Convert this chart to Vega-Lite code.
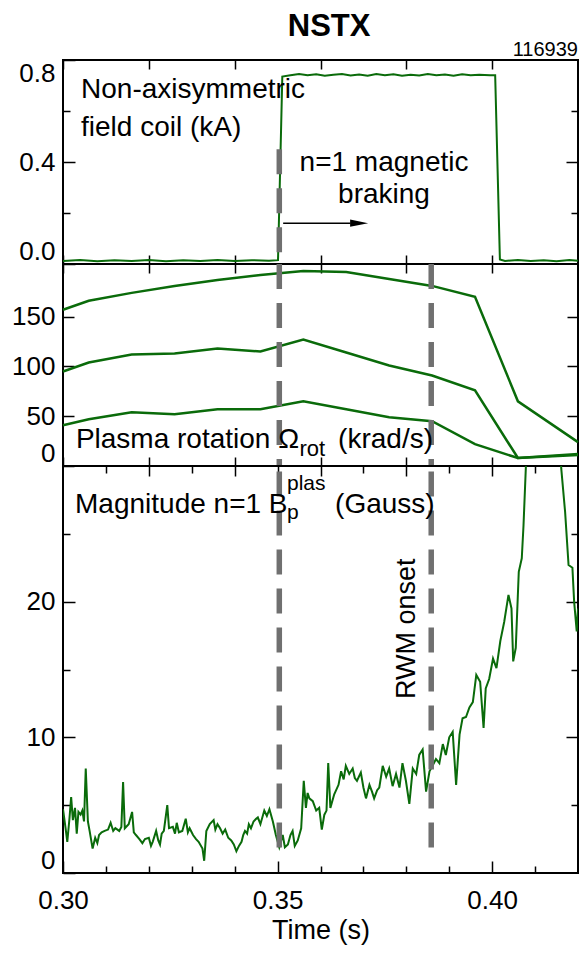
{
  "$schema": "https://vega.github.io/schema/vega-lite/v6.json",
  "background": "white",
  "padding": {"left": 2, "top": 10, "right": 1, "bottom": 2},
  "spacing": 0,
  "bounds": "flush",
  "config": {
    "font": "Liberation Sans",
    "view": {"stroke": "black", "strokeWidth": 2},
    "axis": {"domain": false, "grid": false, "labelFont": "Liberation Sans", "labelFontSize": 26, "labelColor": "black", "tickColor": "black", "tickWidth": 1.5, "titleFont": "Liberation Sans", "titleFontSize": 27, "titleFontWeight": "normal", "titleColor": "black"},
    "text": {"font": "Liberation Sans", "color": "black"}
  },
  "datasets": {
    "coil": [
      {"t":0.300,"v":0.012},{"t":0.304,"v":0.016},{"t":0.308,"v":0.011},{"t":0.312,"v":0.015},{"t":0.316,"v":0.012},{"t":0.320,"v":0.016},{"t":0.324,"v":0.011},{"t":0.328,"v":0.015},{"t":0.332,"v":0.012},{"t":0.336,"v":0.016},{"t":0.340,"v":0.012},{"t":0.344,"v":0.015},{"t":0.348,"v":0.013},{"t":0.3501,"v":0.015},{"t":0.3511,"v":0.735},{"t":0.353,"v":0.740},{"t":0.355,"v":0.745},{"t":0.357,"v":0.740},{"t":0.359,"v":0.744},{"t":0.361,"v":0.738},{"t":0.363,"v":0.742},{"t":0.365,"v":0.745},{"t":0.367,"v":0.739},{"t":0.369,"v":0.743},{"t":0.371,"v":0.738},{"t":0.373,"v":0.745},{"t":0.375,"v":0.740},{"t":0.377,"v":0.744},{"t":0.379,"v":0.738},{"t":0.381,"v":0.742},{"t":0.383,"v":0.739},{"t":0.385,"v":0.745},{"t":0.387,"v":0.740},{"t":0.389,"v":0.743},{"t":0.391,"v":0.738},{"t":0.393,"v":0.744},{"t":0.395,"v":0.740},{"t":0.397,"v":0.742},{"t":0.3995,"v":0.740},{"t":0.4007,"v":0.740},{"t":0.4018,"v":0.018},{"t":0.403,"v":0.012},{"t":0.406,"v":0.016},{"t":0.409,"v":0.012},{"t":0.412,"v":0.015},{"t":0.415,"v":0.011},{"t":0.418,"v":0.016},{"t":0.420,"v":0.013}
    ],
    "rot": [
      {"s":"a","t":0.300,"v":157},{"s":"a","t":0.306,"v":166},{"s":"a","t":0.316,"v":174},{"s":"a","t":0.326,"v":181},{"s":"a","t":0.336,"v":187},{"s":"a","t":0.346,"v":192},{"s":"a","t":0.356,"v":196},{"s":"a","t":0.366,"v":195},{"s":"a","t":0.376,"v":188},{"s":"a","t":0.386,"v":181},{"s":"a","t":0.396,"v":170},{"s":"a","t":0.406,"v":65},{"s":"a","t":0.420,"v":24},
      {"s":"b","t":0.300,"v":95},{"s":"b","t":0.306,"v":104},{"s":"b","t":0.316,"v":112},{"s":"b","t":0.326,"v":113},{"s":"b","t":0.336,"v":118},{"s":"b","t":0.346,"v":115},{"s":"b","t":0.356,"v":127},{"s":"b","t":0.366,"v":114},{"s":"b","t":0.376,"v":101},{"s":"b","t":0.386,"v":91},{"s":"b","t":0.396,"v":76},{"s":"b","t":0.406,"v":8},{"s":"b","t":0.420,"v":12},
      {"s":"c","t":0.300,"v":41},{"s":"c","t":0.306,"v":47},{"s":"c","t":0.316,"v":54},{"s":"c","t":0.326,"v":52},{"s":"c","t":0.336,"v":57},{"s":"c","t":0.346,"v":57},{"s":"c","t":0.356,"v":65},{"s":"c","t":0.366,"v":57},{"s":"c","t":0.376,"v":49},{"s":"c","t":0.386,"v":45},{"s":"c","t":0.396,"v":22},{"s":"c","t":0.406,"v":8},{"s":"c","t":0.420,"v":11}
    ],
    "bp": [
      {"t":0.3000,"v":4.7},{"t":0.3006,"v":3.3},{"t":0.3010,"v":2.3},{"t":0.3015,"v":4.0},{"t":0.3019,"v":5.6},{"t":0.3023,"v":3.9},{"t":0.3028,"v":4.8},{"t":0.3032,"v":2.9},{"t":0.3036,"v":4.5},{"t":0.3041,"v":4.3},{"t":0.3045,"v":4.6},{"t":0.3049,"v":3.8},{"t":0.3053,"v":7.7},{"t":0.3058,"v":3.8},{"t":0.3062,"v":3.1},{"t":0.3069,"v":1.8},{"t":0.3075,"v":2.6},{"t":0.3080,"v":2.2},{"t":0.3084,"v":2.8},{"t":0.3090,"v":3.0},{"t":0.3097,"v":3.1},{"t":0.3105,"v":3.2},{"t":0.3111,"v":3.7},{"t":0.3117,"v":3.1},{"t":0.3122,"v":3.3},{"t":0.3131,"v":3.1},{"t":0.3136,"v":3.4},{"t":0.3140,"v":6.7},{"t":0.3144,"v":3.3},{"t":0.3153,"v":3.6},{"t":0.3161,"v":4.5},{"t":0.3165,"v":3.0},{"t":0.3170,"v":2.8},{"t":0.3178,"v":2.5},{"t":0.3185,"v":2.2},{"t":0.3191,"v":2.5},{"t":0.3200,"v":2.6},{"t":0.3205,"v":2.0},{"t":0.3209,"v":2.3},{"t":0.3217,"v":3.1},{"t":0.3222,"v":2.4},{"t":0.3226,"v":2.1},{"t":0.3230,"v":2.9},{"t":0.3235,"v":3.1},{"t":0.3243,"v":5.0},{"t":0.3247,"v":3.3},{"t":0.3256,"v":3.4},{"t":0.3261,"v":2.9},{"t":0.3265,"v":3.7},{"t":0.3270,"v":3.0},{"t":0.3278,"v":3.1},{"t":0.3286,"v":4.0},{"t":0.3291,"v":3.0},{"t":0.3295,"v":3.3},{"t":0.3303,"v":2.8},{"t":0.3310,"v":2.5},{"t":0.3316,"v":2.3},{"t":0.3325,"v":1.8},{"t":0.3329,"v":0.9},{"t":0.3334,"v":3.1},{"t":0.3342,"v":3.6},{"t":0.3351,"v":3.9},{"t":0.3355,"v":3.2},{"t":0.3360,"v":3.6},{"t":0.3366,"v":3.3},{"t":0.3372,"v":2.9},{"t":0.3378,"v":3.2},{"t":0.3385,"v":2.6},{"t":0.3392,"v":2.4},{"t":0.3398,"v":2.1},{"t":0.3404,"v":1.6},{"t":0.3410,"v":2.0},{"t":0.3416,"v":2.3},{"t":0.3420,"v":2.8},{"t":0.3424,"v":3.1},{"t":0.3429,"v":2.9},{"t":0.3433,"v":3.6},{"t":0.3438,"v":3.3},{"t":0.3444,"v":3.8},{"t":0.3450,"v":4.0},
      {"t":0.3454,"v":4.1},{"t":0.3460,"v":3.6},{"t":0.3469,"v":4.6},{"t":0.3475,"v":4.2},{"t":0.3481,"v":4.7},{"t":0.3489,"v":3.8},{"t":0.3496,"v":2.8},{"t":0.3504,"v":1.9},{"t":0.3512,"v":2.8},{"t":0.3517,"v":1.9},{"t":0.3524,"v":2.1},{"t":0.3530,"v":2.8},{"t":0.3535,"v":3.1},{"t":0.3540,"v":2.0},{"t":0.3547,"v":2.4},{"t":0.3555,"v":3.3},{"t":0.3561,"v":6.8},{"t":0.3566,"v":4.8},{"t":0.3570,"v":5.9},{"t":0.3574,"v":5.5},{"t":0.3582,"v":5.3},{"t":0.3590,"v":4.6},{"t":0.3597,"v":4.8},{"t":0.3603,"v":3.2},{"t":0.3609,"v":4.3},{"t":0.3614,"v":4.6},{"t":0.3618,"v":8.1},{"t":0.3623,"v":4.8},{"t":0.3632,"v":5.8},{"t":0.3642,"v":6.5},{"t":0.3648,"v":7.5},{"t":0.3654,"v":6.9},{"t":0.3659,"v":7.9},{"t":0.3667,"v":7.3},{"t":0.3675,"v":7.7},{"t":0.3680,"v":7.0},{"t":0.3685,"v":6.8},{"t":0.3694,"v":7.4},{"t":0.3700,"v":6.3},{"t":0.3706,"v":5.5},{"t":0.3714,"v":6.5},{"t":0.3720,"v":6.0},{"t":0.3725,"v":5.5},{"t":0.3732,"v":6.1},{"t":0.3737,"v":6.3},{"t":0.3745,"v":7.9},{"t":0.3753,"v":7.1},{"t":0.3760,"v":7.7},{"t":0.3768,"v":6.4},{"t":0.3776,"v":7.3},{"t":0.3784,"v":6.3},{"t":0.3791,"v":8.1},{"t":0.3799,"v":6.8},{"t":0.3807,"v":5.1},{"t":0.3815,"v":7.7},{"t":0.3823,"v":7.3},{"t":0.3830,"v":8.7},{"t":0.3838,"v":9.1},{"t":0.3846,"v":6.0},{"t":0.3854,"v":7.5},{"t":0.3861,"v":7.9},{"t":0.3869,"v":8.4},{"t":0.3877,"v":8.1},{"t":0.3885,"v":9.5},{"t":0.3892,"v":8.7},{"t":0.3900,"v":10.0},{"t":0.3908,"v":10.4},{"t":0.3916,"v":6.5},{"t":0.3924,"v":10.2},{"t":0.3931,"v":11.4},{"t":0.3939,"v":11.5},{"t":0.3947,"v":12.2},{"t":0.3955,"v":12.6},{"t":0.3963,"v":14.6},{"t":0.3972,"v":14.1},{"t":0.3980,"v":10.7},{"t":0.3985,"v":13.6},{"t":0.3993,"v":14.3},{"t":0.4002,"v":15.8},{"t":0.4010,"v":15.1},{"t":0.4019,"v":17.1},{"t":0.4028,"v":18.5},{"t":0.4038,"v":20.5},{"t":0.4045,"v":19.5},{"t":0.4049,"v":15.6},{"t":0.4055,"v":16.6},{"t":0.4062,"v":22.2},{"t":0.4069,"v":23.2},{"t":0.4073,"v":25.6},{"t":0.4079,"v":30.3},{"t":0.4085,"v":36},{"t":0.4150,"v":36},{"t":0.4161,"v":29.8},{"t":0.4170,"v":26.6},{"t":0.4178,"v":22.7},{"t":0.4187,"v":22.5},{"t":0.4191,"v":20.0},{"t":0.4197,"v":17.8},{"t":0.4200,"v":19.5}
    ]
  },
  "vconcat": [
    {
      "width": 515, "height": 204,
      "encoding": {
        "x": {"field":"t","type":"quantitative","scale":{"domain":[0.3,0.42],"nice":false,"zero":false},"axis":null},
        "y": {"field":"v","type":"quantitative","scale":{"domain":[0,0.8],"nice":false,"zero":false},"axis":null}
      },
      "layer": [
        {"data":{"name":"coil"},"mark":{"type":"line","color":"#0a6b0a","strokeWidth":2},
         "encoding":{
          "x":{"field":"t","type":"quantitative","scale":{"domain":[0.3,0.42],"nice":false,"zero":false},"axis":{"orient":"bottom","title":null,"values":[0.30,0.32,0.34,0.36,0.38,0.40,0.42],"labels":false,"tickSize":-9}},
          "y":{"field":"v","type":"quantitative","scale":{"domain":[0,0.8],"nice":false,"zero":false},"axis":{"orient":"left","title":null,"values":[0,0.4,0.8],"format":".1f","tickSize":-12,"labelPadding":20,"labelFlush":true,"minExtent":60,"maxExtent":60}}}},
        {"data":{"name":"coil"},"mark":{"type":"line","opacity":0},
         "encoding":{
          "x":{"field":"t","type":"quantitative","scale":{"domain":[0.3,0.42],"nice":false,"zero":false},"axis":{"orient":"top","title":null,"values":[0.30,0.32,0.34,0.36,0.38,0.40,0.42],"labels":false,"tickSize":-9}},
          "y":{"field":"v","type":"quantitative","scale":{"domain":[0,0.8],"nice":false,"zero":false},"axis":{"orient":"left","title":null,"values":[0.2,0.6],"labels":false,"tickSize":-7}}}},
        {"data":{"name":"coil"},"mark":{"type":"line","opacity":0},
         "encoding":{
          "y":{"field":"v","type":"quantitative","scale":{"domain":[0,0.8],"nice":false,"zero":false},"axis":{"orient":"right","title":null,"values":[0.4],"labels":false,"tickSize":-12}}}},
        {"data":{"name":"coil"},"mark":{"type":"line","opacity":0},
         "encoding":{
          "y":{"field":"v","type":"quantitative","scale":{"domain":[0,0.8],"nice":false,"zero":false},"axis":{"orient":"right","title":null,"values":[0.2,0.6],"labels":false,"tickSize":-7}}}},
        {"data":{"values":[{"t":0.3504,"v":0.45,"v2":0}]},
         "mark":{"type":"rule","color":"#707070","strokeWidth":5.5,"strokeDash":[25,14]},
         "encoding":{"y2":{"field":"v2"}}},
        {"data":{"values":[{"t":0.3513,"t2":0.3670,"v":0.16}]},
         "mark":{"type":"rule","color":"black","strokeWidth":1.5},
         "encoding":{"x":{"field":"t","type":"quantitative","scale":{"domain":[0.3,0.42],"nice":false,"zero":false},"axis":null},"x2":{"field":"t2"}}},
        {"data":{"values":[{"t":0.3690,"v":0.16}]},
         "mark":{"type":"point","shape":"M-1,-0.4L1,0L-1,0.4Z","filled":true,"color":"black","opacity":1,"size":324,"strokeWidth":0}},
        {"data":{"values":[{"t":0.3042,"v":0.651,"label":"Non-axisymmetric"},{"t":0.3042,"v":0.502,"label":"field coil (kA)"}]},
         "mark":{"type":"text","align":"left","baseline":"alphabetic","fontSize":28},
         "encoding":{"text":{"field":"label"}}},
        {"data":{"values":[{"t":0.3748,"v":0.365,"label":"n=1 magnetic"},{"t":0.3748,"v":0.239,"label":"braking"}]},
         "mark":{"type":"text","align":"center","baseline":"alphabetic","fontSize":28},
         "encoding":{"text":{"field":"label"}}},
        {"data":{"values":[{"t":0.362,"v":0.894,"label":"NSTX"}]},
         "mark":{"type":"text","align":"center","baseline":"alphabetic","fontSize":31,"fontWeight":"bold"},
         "encoding":{"text":{"field":"label"}}},
        {"data":{"values":[{"t":0.42,"v":0.816,"label":"116939"}]},
         "mark":{"type":"text","align":"right","baseline":"alphabetic","fontSize":20},
         "encoding":{"text":{"field":"label"}}}
      ],
      "resolve": {"axis": {"x": "independent", "y": "independent"}}
    },
    {
      "width": 515, "height": 202,
      "encoding": {
        "x": {"field":"t","type":"quantitative","scale":{"domain":[0.3,0.42],"nice":false,"zero":false},"axis":null},
        "y": {"field":"v","type":"quantitative","scale":{"domain":[0,203],"nice":false,"zero":false},"axis":null}
      },
      "layer": [
        {"data":{"name":"rot"},"mark":{"type":"line","color":"#0a6b0a","strokeWidth":2.5},
         "encoding":{
          "detail":{"field":"s"},
          "x":{"field":"t","type":"quantitative","scale":{"domain":[0.3,0.42],"nice":false,"zero":false},"axis":{"orient":"bottom","title":null,"values":[0.30,0.32,0.34,0.36,0.38,0.40,0.42],"labels":false,"tickSize":-9}},
          "y":{"field":"v","type":"quantitative","scale":{"domain":[0,203],"nice":false,"zero":false},"axis":{"orient":"left","title":null,"values":[0,50,100,150],"tickSize":-11,"labelPadding":19,"labelFlush":true,"minExtent":60,"maxExtent":60}}}},
        {"data":{"name":"rot"},"mark":{"type":"line","opacity":0},
         "encoding":{
          "detail":{"field":"s"},
          "x":{"field":"t","type":"quantitative","scale":{"domain":[0.3,0.42],"nice":false,"zero":false},"axis":{"orient":"top","title":null,"values":[0.30,0.32,0.34,0.36,0.38,0.40,0.42],"labels":false,"tickSize":-9}},
          "y":{"field":"v","type":"quantitative","scale":{"domain":[0,203],"nice":false,"zero":false},"axis":{"orient":"right","title":null,"values":[50,100,150],"labels":false,"tickSize":-11}}}},
        {"data":{"values":[{"t":0.3504,"v":203,"v2":0},{"t":0.3858,"v":203,"v2":0}]},
         "mark":{"type":"rule","color":"#707070","strokeWidth":5.5,"strokeDash":[25,14]},
         "encoding":{"y2":{"field":"v2"}}},
        {"data":{"values":[{"t":0.3030,"v":18,"label":"Plasma rotation Ω"},{"t":0.3641,"v":18,"label":"(krad/s)"}]},
         "mark":{"type":"text","align":"left","baseline":"alphabetic","fontSize":28},
         "encoding":{"text":{"field":"label"}}},
        {"data":{"values":[{"t":0.3551,"v":10,"label":"rot"}]},
         "mark":{"type":"text","align":"left","baseline":"alphabetic","fontSize":22},
         "encoding":{"text":{"field":"label"}}}
      ],
      "resolve": {"axis": {"x": "independent", "y": "independent"}}
    },
    {
      "width": 515, "height": 407,
      "encoding": {
        "x": {"field":"t","type":"quantitative","scale":{"domain":[0.3,0.42],"nice":false,"zero":false},"axis":null},
        "y": {"field":"v","type":"quantitative","scale":{"domain":[0,30],"nice":false,"zero":false},"axis":null}
      },
      "layer": [
        {"data":{"name":"bp"},"mark":{"type":"line","color":"#0a6b0a","strokeWidth":2,"clip":true},
         "encoding":{
          "x":{"field":"t","type":"quantitative","scale":{"domain":[0.3,0.42],"nice":false,"zero":false},"axis":{"orient":"bottom","title":"Time (s)","titlePadding":4,"values":[0.30,0.35,0.40],"format":".2f","labelFlush":false,"tickSize":-12,"labelPadding":26}},
          "y":{"field":"v","type":"quantitative","scale":{"domain":[0,30],"nice":false,"zero":false},"axis":{"orient":"left","title":null,"values":[0,10,20],"tickSize":-12,"labelPadding":20,"labelFlush":true,"minExtent":60,"maxExtent":60}}}},
        {"data":{"name":"bp"},"mark":{"type":"line","opacity":0,"clip":true},
         "encoding":{
          "x":{"field":"t","type":"quantitative","scale":{"domain":[0.3,0.42],"nice":false,"zero":false},"axis":{"orient":"bottom","title":null,"values":[0.31,0.32,0.33,0.34,0.36,0.37,0.38,0.39,0.41],"labels":false,"tickSize":-7}},
          "y":{"field":"v","type":"quantitative","scale":{"domain":[0,30],"nice":false,"zero":false},"axis":{"orient":"left","title":null,"values":[5,15,25],"labels":false,"tickSize":-7}}}},
        {"data":{"name":"bp"},"mark":{"type":"line","opacity":0,"clip":true},
         "encoding":{
          "x":{"field":"t","type":"quantitative","scale":{"domain":[0.3,0.42],"nice":false,"zero":false},"axis":{"orient":"top","title":null,"values":[0.31,0.33,0.35,0.37,0.39,0.41],"labels":false,"tickSize":-7}},
          "y":{"field":"v","type":"quantitative","scale":{"domain":[0,30],"nice":false,"zero":false},"axis":{"orient":"right","title":null,"values":[10,20],"labels":false,"tickSize":-12}}}},
        {"data":{"name":"bp"},"mark":{"type":"line","opacity":0,"clip":true},
         "encoding":{
          "x":{"field":"t","type":"quantitative","scale":{"domain":[0.3,0.42],"nice":false,"zero":false},"axis":{"orient":"top","title":null,"values":[0.32,0.34,0.36,0.38,0.40],"labels":false,"tickSize":-10}},
          "y":{"field":"v","type":"quantitative","scale":{"domain":[0,30],"nice":false,"zero":false},"axis":{"orient":"right","title":null,"values":[5,15,25],"labels":false,"tickSize":-7}}}},
        {"data":{"values":[{"t":0.3504,"v":29.6,"v2":1.0},{"t":0.3858,"v":29.6,"v2":1.4}]},
         "mark":{"type":"rule","color":"#707070","strokeWidth":5.5,"strokeDash":[25,14]},
         "encoding":{"y2":{"field":"v2"}}},
        {"data":{"values":[{"t":0.3028,"v":26.5,"label":"Magnitude n=1 B"},{"t":0.3634,"v":26.5,"label":"(Gauss)"}]},
         "mark":{"type":"text","align":"left","baseline":"alphabetic","fontSize":28},
         "encoding":{"text":{"field":"label"}}},
        {"data":{"values":[{"t":0.3522,"v":26.1,"label":"p"},{"t":0.3522,"v":28.2,"label":"plas"}]},
         "mark":{"type":"text","align":"left","baseline":"alphabetic","fontSize":21},
         "encoding":{"text":{"field":"label"}}},
        {"data":{"values":[{"t":0.3802,"v":18.0,"label":"RWM onset"}]},
         "mark":{"type":"text","align":"center","baseline":"middle","fontSize":27,"angle":270},
         "encoding":{"text":{"field":"label"}}}
      ],
      "resolve": {"axis": {"x": "independent", "y": "independent"}}
    }
  ]
}
